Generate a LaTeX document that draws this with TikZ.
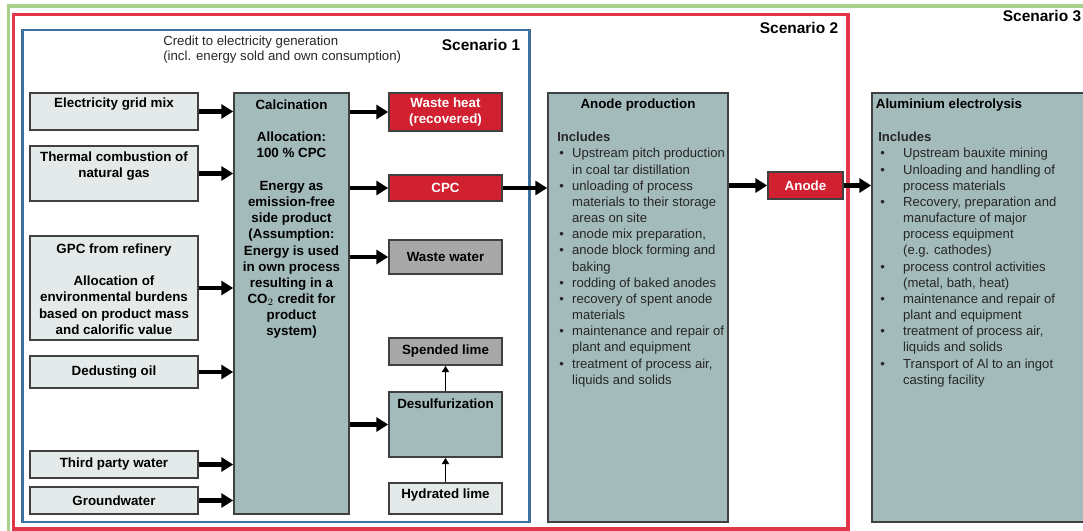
\documentclass[tikz,border=0pt]{standalone}
\usepackage{fontspec}
\setmainfont{Liberation Sans}
\usetikzlibrary{arrows.meta}

\definecolor{boxlight}{HTML}{E4EAEA}
\definecolor{boxteal}{HTML}{A3BBBA}
\definecolor{boxred}{HTML}{D1202F}
\definecolor{boxgray}{HTML}{A8A8A8}
\definecolor{frgreen}{HTML}{A9D18E}
\definecolor{frred}{HTML}{E2374A}
\definecolor{frblue}{HTML}{40709F}

% bullet and continuation indent for the lists
\newcommand{\bul}[1][10.6pt]{\makebox[#1][l]{\hspace{1.4pt}\textbullet}}
\newcommand{\cont}[1][10.6pt]{\hspace*{#1}}

\begin{document}
\begin{tikzpicture}[x=0.025cm,y=-0.025cm,
  box/.style={draw=black!75, line width=1.1pt, inner sep=0pt},
  inbox/.style={box, fill=boxlight, font=\fontsize{9.5}{11.5}\selectfont\bfseries, align=center},
  procbox/.style={box, fill=boxteal},
  prodbox/.style={box, fill=boxred, text=white, font=\fontsize{9.5}{11.5}\selectfont\bfseries, align=center},
  wastebox/.style={box, fill=boxgray, font=\fontsize{9.5}{11.5}\selectfont\bfseries, align=center},
  txt/.style={font=\fontsize{9.5}{11.5}\selectfont\bfseries, align=center, inner sep=0pt},
  list/.style={font=\fontsize{9.3}{11.5}\selectfont, text=black!85, align=left, inner sep=0pt, anchor=north west},
  scen/.style={font=\fontsize{11}{13}\selectfont\bfseries, inner sep=0pt},
  flow/.style={line width=3pt, -{Triangle[length=8.5pt,width=10pt]}},
  feed/.style={line width=1.4pt, -{Triangle[length=4.5pt,width=5pt]}}]

  \clip (0,0) rectangle (1083,531);

  % Scenario frames
  \draw[frgreen, line width=2.2pt] (8.5,540) -- (8.5,6) -- (1090,6);
  \draw[frred, line width=2.2pt] (13.5,14.5) rectangle (848,529);
  \draw[frblue, line width=2pt] (22.5,30) rectangle (529.5,522);
  \node[scen] (s3) at (1042,16) {Scenario 3};
  \node[scen] (s2) at (799,28) {Scenario 2};
  \node[scen] (s1) at (481,45) {Scenario 1};

  \node[font=\fontsize{9.4}{10.8}\selectfont, text=black!85, align=left, inner sep=0pt, anchor=west] (credit) at (163,49.5)
    {Credit to electricity generation\\(incl. energy sold and own consumption)};

  % Inputs
  \node[inbox, minimum width=4.2cm, minimum height=0.925cm] (elec) at (114,111.5) {};
  \node[txt] at (114,104) {Electricity grid mix};
  \node[inbox, minimum width=4.2cm, minimum height=1.375cm] (gas) at (114,173.5) {};
  \node[txt] at (114,166) {Thermal combustion of\\natural gas};
  \node[inbox, minimum width=4.2cm, minimum height=2.6cm] (gpc) at (114,288) {};
  \node[txt] at (114,289) {GPC from refinery\\[11.5pt]Allocation of\\environmental burdens\\based on product mass\\and calorific value};
  \node[inbox, minimum width=4.2cm, minimum height=0.8cm] (oil) at (114,372) {Dedusting oil};
  \node[inbox, minimum width=4.2cm, minimum height=0.675cm] (water) at (114,464.5) {Third party water};
  \node[inbox, minimum width=4.2cm, minimum height=0.675cm] (ground) at (114,500.5) {Groundwater};

  % Calcination
  \node[procbox, minimum width=2.875cm, minimum height=10.525cm] (calc) at (291.5,303.5) {};
  \node[txt, anchor=north] at (291.5,99.5) {Calcination\\[11.5pt]Allocation:\\100 \% CPC\\[11.5pt]Energy as\\emission-free\\side product\\(Assumption:\\Energy is used\\in own process\\resulting in a\\CO$_2$ credit for\\product\\system)};

  % Outputs
  \node[prodbox, minimum width=2.825cm, minimum height=0.95cm] (heat) at (445.5,112) {Waste heat\\(recovered)};
  \node[prodbox, minimum width=2.825cm, minimum height=0.65cm] (cpc) at (445.5,188) {CPC};
  \node[wastebox, minimum width=2.825cm, minimum height=0.85cm] (wwater) at (445.5,257) {Waste water};
  \node[wastebox, minimum width=2.825cm, minimum height=0.675cm] (slime) at (445.5,351.5) {Spended lime};
  \node[procbox, minimum width=2.825cm, minimum height=1.625cm] (desulf) at (445.5,424.5) {};
  \node[txt] at (445.5,404) {Desulfurization};
  \node[inbox, minimum width=2.825cm, minimum height=0.775cm] (hlime) at (445.5,498.5) {};
  \node[txt] at (445.5,495) {Hydrated lime};

  % Anode production
  \node[procbox, minimum width=4.5cm, minimum height=10.725cm] (aprod) at (638,307.5) {};
  \node[txt] at (638,105) {Anode production};
  \node[list] at (557,132) {\textbf{Includes}\\
    \bul Upstream pitch production\\
    \cont in coal tar distillation\\
    \bul unloading of process\\
    \cont materials to their storage\\
    \cont areas on site\\
    \bul anode mix preparation,\\
    \bul anode block forming and\\
    \cont baking\\
    \bul rodding of baked anodes\\
    \bul recovery of spent anode\\
    \cont materials\\
    \bul maintenance and repair of\\
    \cont plant and equipment\\
    \bul treatment of process air,\\
    \cont liquids and solids};

  \node[prodbox, minimum width=1.875cm, minimum height=0.675cm] (anode) at (805.5,185.5) {Anode};

  % Aluminium electrolysis
  \node[procbox, minimum width=5.575cm, minimum height=10.725cm] (alu) at (983.5,307.5) {};
  \node[txt] at (949,105) {Aluminium electrolysis};
  \node[list] at (878,132) {\textbf{Includes}\\
    \bul[17.7pt]Upstream bauxite mining\\
    \bul[17.7pt]Unloading and handling of\\
    \cont[17.7pt]process materials\\
    \bul[17.7pt]Recovery, preparation and\\
    \cont[17.7pt]manufacture of major\\
    \cont[17.7pt]process equipment\\
    \cont[17.7pt](e.g. cathodes)\\
    \bul[17.7pt]process control activities\\
    \cont[17.7pt](metal, bath, heat)\\
    \bul[17.7pt]maintenance and repair of\\
    \cont[17.7pt]plant and equipment\\
    \bul[17.7pt]treatment of process air,\\
    \cont[17.7pt]liquids and solids\\
    \bul[17.7pt]Transport of Al to an ingot\\
    \cont[17.7pt]casting facility};

  % Flows into calcination
  \draw[flow] (elec.east) -- (elec.east -| calc.west);
  \draw[flow] (gas.east) -- (gas.east -| calc.west);
  \draw[flow] (gpc.east) -- (gpc.east -| calc.west);
  \draw[flow] (oil.east) -- (oil.east -| calc.west);
  \draw[flow] (water.east) -- (water.east -| calc.west);
  \draw[flow] (ground.east) -- (ground.east -| calc.west);

  % Flows out of calcination
  \draw[flow] (heat.west -| calc.east) -- (heat.west);
  \draw[flow] (cpc.west -| calc.east) -- (cpc.west);
  \draw[flow] (wwater.west -| calc.east) -- (wwater.west);
  \draw[flow] (desulf.west -| calc.east) -- (desulf.west);
  \draw[feed] (desulf.north) -- (slime.south);
  \draw[feed] (hlime.north) -- (desulf.south);

  % Main chain
  \draw[flow] (cpc.east) -- (cpc.east -| aprod.west);
  \draw[flow] (anode.west -| aprod.east) -- (anode.west);
  \draw[flow] (anode.east) -- (anode.east -| alu.west);

\end{tikzpicture}
\end{document}
